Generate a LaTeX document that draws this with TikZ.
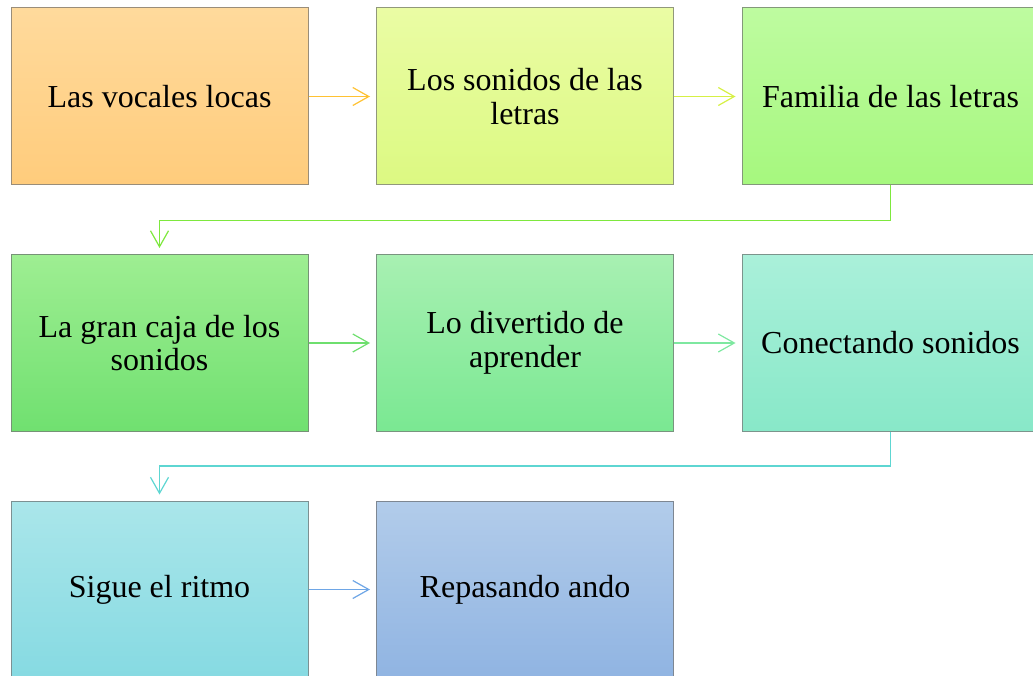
\documentclass[tikz,border=0pt]{standalone}
\usepackage{fontspec}
\setmainfont{Liberation Serif}
\usetikzlibrary{arrows.meta,calc}
\definecolor{c1t}{HTML}{FFDA9C}\definecolor{c1b}{HTML}{FFCC7C}
\definecolor{c2t}{HTML}{EAFCA4}\definecolor{c2b}{HTML}{DCF982}
\definecolor{c3t}{HTML}{BEFBA0}\definecolor{c3b}{HTML}{A6F87E}
\definecolor{c4t}{HTML}{9EEE92}\definecolor{c4b}{HTML}{70E070}
\definecolor{c5t}{HTML}{A8F0B2}\definecolor{c5b}{HTML}{7AE892}
\definecolor{c6t}{HTML}{AAF0DA}\definecolor{c6b}{HTML}{88E8C8}
\definecolor{c7t}{HTML}{AAE6EA}\definecolor{c7b}{HTML}{86DAE2}
\definecolor{c8t}{HTML}{B2CCEA}\definecolor{c8b}{HTML}{90B4E2}
\definecolor{a1}{HTML}{FFC233}\definecolor{a2}{HTML}{D6F045}
\definecolor{a3}{HTML}{7EE83E}\definecolor{a4}{HTML}{6EDF6E}
\definecolor{a5}{HTML}{7EE8A0}\definecolor{a6}{HTML}{5ED6D2}
\definecolor{a7}{HTML}{6EA6E6}
\definecolor{bord}{HTML}{787878}
\begin{document}
\begin{tikzpicture}[x=1pt,y=-1pt,
  box/.style={line width=1pt,minimum width=297pt,minimum height=177pt,
    inner sep=0pt,align=center,font=\fontsize{32}{33.5}\selectfont},
  conn/.style={line width=1.2pt,-{Straight Barb[length=16pt,width=18pt,line width=1.2pt]},shorten >=6pt}]
\useasboundingbox (0,0) rectangle (1033,676);
\clip (0,0) rectangle (1033,676);
\node[box,draw=c1b!25!bord,top color=c1t,bottom color=c1b] (b1) at (159.5,96.5) {Las vocales locas};
\node[box,draw=c2b!25!bord,top color=c2t,bottom color=c2b] (b2) at (525,96.5) {Los sonidos de las\\letras};
\node[box,draw=c3b!25!bord,top color=c3t,bottom color=c3b] (b3) at (890.5,96.5) {Familia de las letras};
\node[box,draw=c4b!25!bord,top color=c4t,bottom color=c4b] (b4) at (159.5,343) {La gran caja de los\\sonidos};
\node[box,draw=c5b!25!bord,top color=c5t,bottom color=c5b] (b5) at (525,343) {Lo divertido de\\aprender};
\node[box,draw=c6b!25!bord,top color=c6t,bottom color=c6b] (b6) at (890.5,343) {Conectando sonidos};
\node[box,draw=c7b!25!bord,top color=c7t,bottom color=c7b] (b7) at (159.5,589.5) {Sigue el ritmo};
\node[box,draw=c8b!25!bord,top color=c8t,bottom color=c8b] (b8) at (525,589.5) {Repasando ando};
\draw[conn,a1] (b1.east) -- (b2.west);
\draw[conn,a2] (b2.east) -- (b3.west);
\draw[conn,a3] (b3.south) -- ++(0,35) -| (b4.north);
\draw[conn,a4] (b4.east) -- (b5.west);
\draw[conn,a5] (b5.east) -- (b6.west);
\draw[conn,a6] (b6.south) -- ++(0,34) -| (b7.north);
\draw[conn,a7] (b7.east) -- (b8.west);
\end{tikzpicture}
\end{document}
